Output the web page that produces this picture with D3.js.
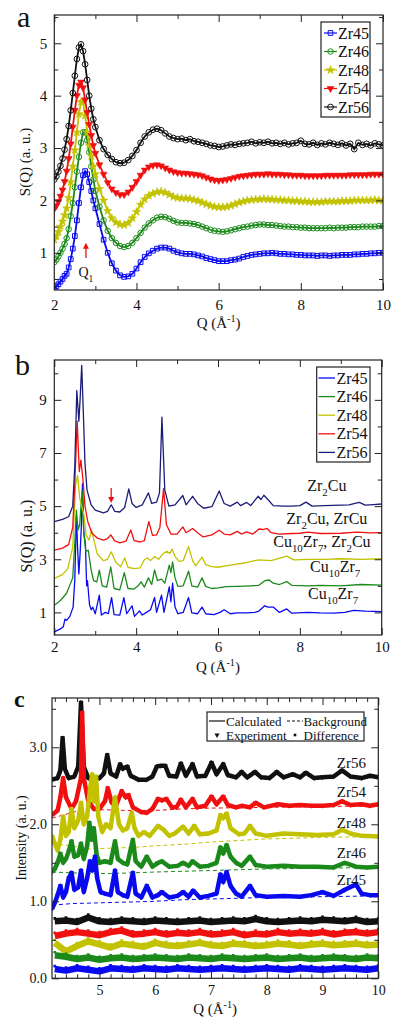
<!DOCTYPE html>
<meta charset="utf-8">
<script src="https://d3js.org/d3.v7.min.js"></script>
<style>
  body { margin: 0; background: #fff; }
  text { font-family: "Liberation Serif", "Times New Roman", serif; }
</style>
<div id="my_dataviz"></div>
<script>

// ---------- panel a : S(Q) of the glasses ----------
var qA = [2.0,2.05,2.1,2.15,2.2,2.25,2.3,2.35,2.4,2.45,2.5,2.55,2.6,2.65,2.7,2.75,2.8,2.85,2.9,2.95,3.0,
  3.1,3.2,3.3,3.4,3.5,3.6,3.7,3.8,3.9,4.0,
  4.1,4.2,4.3,4.4,4.5,4.6,4.7,4.8,4.9,5.0,
  5.1,5.2,5.3,5.4,5.5,5.6,5.7,5.8,5.9,6.0,
  6.1,6.2,6.3,6.4,6.5,6.6,6.7,6.8,6.9,7.0,
  7.1,7.2,7.3,7.4,7.5,7.6,7.7,7.8,7.9,8.0,
  8.1,8.2,8.3,8.4,8.5,8.6,8.7,8.8,8.9,9.0,
  9.1,9.2,9.3,9.4,9.5,9.6,9.7,9.8,9.9,10.0];

var a45 = [0.32,0.36,0.40,0.45,0.50,0.56,0.60,0.72,0.88,1.08,1.32,1.62,1.95,2.25,2.48,2.56,2.50,2.35,2.18,2.00,1.85,
  1.55,1.25,1.00,0.80,0.66,0.57,0.54,0.55,0.60,0.70,
  0.82,0.92,0.99,1.04,1.08,1.10,1.10,1.08,1.04,1.01,
  0.99,0.98,0.98,0.97,0.95,0.93,0.90,0.88,0.86,0.84,
  0.84,0.84,0.86,0.87,0.89,0.92,0.94,0.96,0.97,0.98,
  0.99,0.99,1.00,0.99,0.98,0.98,0.97,0.97,0.96,0.96,
  0.95,0.95,0.95,0.94,0.95,0.95,0.94,0.95,0.95,0.96,
  0.96,0.96,0.97,0.97,0.98,0.98,0.99,0.99,1.00,1.00];
var a46 = [0.82,0.87,0.93,1.00,1.08,1.17,1.28,1.45,1.70,1.95,2.25,2.55,2.83,3.10,3.30,3.30,3.15,2.92,2.65,2.40,2.18,
  1.88,1.62,1.42,1.28,1.19,1.13,1.11,1.13,1.19,1.28,
  1.38,1.48,1.56,1.62,1.67,1.69,1.68,1.65,1.61,1.58,
  1.57,1.57,1.56,1.55,1.53,1.50,1.47,1.44,1.42,1.41,
  1.40,1.41,1.43,1.45,1.47,1.49,1.50,1.52,1.53,1.54,
  1.54,1.53,1.53,1.52,1.51,1.50,1.50,1.49,1.49,1.48,
  1.48,1.47,1.47,1.47,1.47,1.47,1.48,1.47,1.48,1.48,
  1.48,1.49,1.49,1.49,1.50,1.50,1.50,1.50,1.51,1.51];
var a48 = [1.25,1.32,1.40,1.50,1.60,1.72,1.85,2.05,2.35,2.65,2.96,3.30,3.65,3.88,3.88,3.62,3.30,3.05,2.85,2.65,2.50,
  2.22,2.00,1.80,1.66,1.58,1.54,1.53,1.57,1.66,1.78,
  1.92,2.02,2.09,2.13,2.16,2.17,2.15,2.11,2.07,2.05,
  2.04,2.04,2.03,2.01,1.99,1.96,1.93,1.90,1.88,1.87,
  1.87,1.88,1.90,1.93,1.96,1.98,2.00,2.01,2.02,2.02,
  2.03,2.02,2.02,2.01,2.01,2.00,2.00,1.99,1.99,1.98,
  1.98,1.97,1.97,1.97,1.97,1.98,1.98,1.98,1.98,1.99,
  1.99,1.99,2.00,2.00,2.00,2.00,2.00,2.01,2.00,2.00];
var a54 = [1.84,1.90,1.98,2.08,2.20,2.36,2.56,2.80,3.08,3.40,3.72,4.00,4.20,4.26,4.15,3.92,3.68,3.45,3.24,3.05,2.90,
  2.68,2.50,2.34,2.22,2.15,2.11,2.11,2.16,2.25,2.36,
  2.48,2.58,2.64,2.67,2.68,2.66,2.62,2.58,2.55,2.53,
  2.52,2.52,2.51,2.50,2.49,2.47,2.44,2.41,2.39,2.38,
  2.39,2.40,2.42,2.44,2.46,2.47,2.48,2.49,2.50,2.50,
  2.50,2.51,2.50,2.50,2.50,2.49,2.49,2.48,2.48,2.48,
  2.47,2.47,2.47,2.47,2.47,2.48,2.48,2.48,2.48,2.48,
  2.48,2.49,2.49,2.49,2.49,2.49,2.50,2.50,2.50,2.50];
var a56 = [2.40,2.46,2.55,2.66,2.80,2.97,3.17,3.42,3.72,4.05,4.38,4.70,4.92,4.98,4.85,4.60,4.30,4.00,3.75,3.55,3.40,
  3.15,2.98,2.87,2.79,2.73,2.71,2.72,2.77,2.85,2.96,
  3.10,3.22,3.30,3.35,3.37,3.34,3.28,3.22,3.19,3.17,
  3.18,3.15,3.17,3.13,3.12,3.10,3.08,3.05,3.04,3.02,
  3.03,3.05,3.07,3.06,3.08,3.09,3.10,3.12,3.09,3.11,
  3.10,3.12,3.09,3.10,3.08,3.10,3.07,3.09,3.10,3.14,
  3.08,3.07,3.10,3.06,3.09,3.07,3.10,3.08,3.06,3.09,
  3.05,3.08,2.98,3.10,3.06,3.08,3.05,3.09,3.07,3.05];

// ---------- panel b : S(Q) after annealing, [Q, S] ----------
var b45 = [[2.0,0.27],[2.15,0.38],[2.22,0.46],[2.26,0.75],[2.3,0.7],[2.38,0.85],[2.46,1.2],[2.5,2.2],[2.54,4.6],[2.57,3.4],[2.6,2.45],[2.63,3.2],[2.66,4.2],[2.69,5.85],[2.72,4.0],[2.76,3.6],[2.79,2.0],[2.81,2.2],[2.86,1.3],[2.9,1.1],[2.94,1.2],[3.0,0.95],[3.1,1.65],[3.15,0.9],[3.25,1.0],[3.32,0.95],[3.4,1.56],[3.46,0.92],[3.6,0.9],[3.7,1.56],[3.77,0.95],[3.9,1.25],[3.96,0.85],[4.08,1.06],[4.15,0.9],[4.25,1.0],[4.35,1.1],[4.45,1.56],[4.5,1.0],[4.62,1.65],[4.68,1.0],[4.81,1.96],[4.85,1.4],[4.89,2.1],[4.95,1.2],[5.02,0.95],[5.15,1.0],[5.28,1.56],[5.36,0.98],[5.5,0.95],[5.61,1.2],[5.7,0.95],[5.9,0.92],[6.05,1.0],[6.15,1.1],[6.3,0.95],[6.47,0.98],[6.7,0.98],[6.9,1.0],[7.0,1.05],[7.14,1.25],[7.22,1.2],[7.35,1.2],[7.5,1.0],[7.68,1.13],[7.8,0.97],[8.2,1.0],[8.5,0.98],[8.83,0.97],[9.1,1.0],[9.32,1.08],[9.6,1.05],[10.0,1.03]];
var b46 = [[2.0,1.27],[2.15,1.45],[2.3,1.72],[2.45,2.3],[2.5,3.6],[2.54,4.85],[2.58,4.1],[2.62,4.3],[2.68,5.6],[2.72,4.0],[2.77,3.3],[2.83,3.34],[2.9,2.6],[2.96,2.2],[3.04,2.15],[3.1,2.59],[3.17,2.0],[3.28,1.95],[3.38,2.71],[3.46,1.9],[3.6,1.85],[3.71,2.5],[3.8,1.9],[3.95,1.88],[4.05,2.0],[4.12,2.15],[4.2,1.95],[4.3,2.3],[4.38,2.05],[4.45,2.6],[4.52,2.2],[4.62,2.25],[4.7,2.1],[4.81,2.78],[4.85,2.5],[4.89,2.9],[4.95,2.3],[5.02,1.98],[5.15,2.0],[5.28,2.55],[5.36,2.0],[5.5,1.95],[5.61,2.3],[5.7,1.98],[5.85,1.9],[6.0,1.92],[6.2,1.97],[6.5,1.98],[6.8,2.0],[7.0,2.02],[7.15,2.2],[7.25,2.22],[7.35,2.1],[7.5,2.05],[7.68,2.16],[7.8,2.02],[8.2,2.0],[8.5,2.02],[9.0,2.0],[9.5,2.05],[10.0,2.03]];
var b48 = [[2.0,2.28],[2.2,2.42],[2.33,2.65],[2.45,3.45],[2.52,5.8],[2.57,6.16],[2.62,5.3],[2.67,5.0],[2.72,4.7],[2.78,3.9],[2.85,3.72],[2.91,4.1],[2.97,3.7],[3.05,3.2],[3.2,2.95],[3.3,3.0],[3.39,3.28],[3.5,2.9],[3.62,2.72],[3.72,3.05],[3.8,2.7],[3.95,2.65],[4.1,2.68],[4.2,2.98],[4.28,3.05],[4.35,2.95],[4.45,3.1],[4.55,3.0],[4.65,3.2],[4.75,3.3],[4.82,3.22],[4.88,3.38],[4.95,3.1],[5.05,2.92],[5.15,2.95],[5.28,3.48],[5.38,2.95],[5.45,2.75],[5.61,3.08],[5.7,2.8],[5.85,2.72],[6.0,2.7],[6.3,2.78],[6.6,2.85],[7.0,2.98],[7.3,2.95],[7.68,3.12],[7.85,2.98],[8.2,3.0],[8.6,3.0],[9.0,3.02],[9.5,3.0],[10.0,3.02]];
var b54 = [[2.0,3.34],[2.2,3.42],[2.35,3.55],[2.45,4.2],[2.5,5.8],[2.56,8.2],[2.61,6.3],[2.65,6.73],[2.7,6.0],[2.75,5.0],[2.82,4.4],[2.92,3.98],[3.05,3.8],[3.2,3.72],[3.3,3.78],[3.38,3.92],[3.47,3.7],[3.6,3.62],[3.75,3.68],[3.87,4.1],[3.95,3.7],[4.1,3.65],[4.2,3.7],[4.31,4.42],[4.4,3.9],[4.5,3.92],[4.58,4.2],[4.67,5.66],[4.74,4.3],[4.85,3.95],[5.0,3.95],[5.14,4.22],[5.22,4.0],[5.38,4.16],[5.5,4.0],[5.64,3.84],[5.85,3.92],[6.03,4.09],[6.15,3.95],[6.3,3.92],[6.47,4.05],[6.57,3.95],[6.7,4.03],[6.85,3.95],[7.0,4.14],[7.1,4.12],[7.2,4.16],[7.3,4.0],[7.5,3.95],[7.8,3.97],[8.0,3.98],[8.2,4.02],[8.5,3.97],[9.0,3.98],[9.4,4.02],[9.7,3.99],[10.0,4.0]];
var b56 = [[2.0,4.42],[2.2,4.5],[2.35,4.6],[2.45,5.0],[2.5,6.5],[2.55,9.35],[2.6,8.2],[2.63,9.0],[2.67,10.3],[2.71,8.5],[2.75,6.6],[2.8,5.6],[2.9,5.05],[3.0,4.85],[3.2,4.75],[3.3,4.8],[3.39,5.05],[3.48,4.8],[3.6,4.78],[3.72,4.95],[3.82,5.65],[3.9,5.1],[4.0,4.95],[4.15,5.05],[4.3,5.5],[4.38,5.1],[4.5,5.15],[4.57,5.5],[4.63,8.35],[4.7,5.6],[4.8,5.0],[4.95,5.05],[5.14,5.4],[5.22,5.05],[5.38,5.37],[5.5,5.1],[5.65,4.92],[5.85,4.98],[6.03,5.57],[6.15,5.1],[6.3,5.0],[6.47,5.15],[6.55,5.02],[6.7,5.14],[6.8,5.02],[6.98,5.37],[7.05,5.25],[7.12,5.41],[7.22,5.25],[7.35,5.02],[7.6,5.0],[7.8,5.0],[8.0,5.02],[8.15,5.15],[8.3,5.0],[8.6,5.02],[9.0,5.04],[9.2,5.05],[9.45,5.14],[9.6,5.04],[9.8,5.06],[10.0,5.08]];

// ---------- panel c : Rietveld fits, experiment [Q, I] and background ----------
var c56 = [[4.15,2.58],[4.25,2.6],[4.3,2.7],[4.34,3.12],[4.38,2.72],[4.45,2.6],[4.55,2.62],[4.62,2.75],[4.67,3.58],[4.72,2.75],[4.8,2.6],[4.9,2.6],[5.0,2.6],[5.08,2.66],[5.14,2.9],[5.2,2.66],[5.3,2.62],[5.37,2.78],[5.42,2.72],[5.5,2.75],[5.56,2.63],[5.7,2.58],[5.85,2.58],[5.95,2.62],[6.03,2.75],[6.1,2.76],[6.18,2.76],[6.25,2.63],[6.38,2.62],[6.46,2.79],[6.55,2.63],[6.67,2.78],[6.75,2.62],[6.9,2.63],[7.01,2.8],[7.1,2.65],[7.22,2.78],[7.3,2.64],[7.45,2.61],[7.55,2.68],[7.65,2.61],[7.79,2.68],[7.9,2.61],[8.05,2.6],[8.18,2.68],[8.3,2.61],[8.47,2.65],[8.6,2.61],[8.7,2.67],[8.85,2.6],[9.0,2.61],[9.2,2.62],[9.35,2.7],[9.5,2.62],[9.7,2.6],[9.85,2.63],[10.0,2.61]];
var c54 = [[4.15,2.12],[4.25,2.18],[4.3,2.35],[4.35,2.6],[4.4,2.35],[4.5,2.2],[4.58,2.3],[4.67,2.6],[4.69,3.45],[4.72,2.6],[4.8,2.3],[4.9,2.2],[5.0,2.2],[5.1,2.3],[5.15,2.47],[5.22,2.28],[5.3,2.25],[5.4,2.43],[5.47,2.35],[5.52,2.38],[5.6,2.22],[5.75,2.16],[5.85,2.15],[5.95,2.2],[6.05,2.33],[6.12,2.31],[6.2,2.33],[6.3,2.22],[6.38,2.22],[6.46,2.32],[6.55,2.22],[6.67,2.33],[6.75,2.22],[6.9,2.24],[7.01,2.36],[7.1,2.26],[7.22,2.36],[7.3,2.25],[7.45,2.22],[7.55,2.24],[7.7,2.22],[7.8,2.28],[7.95,2.22],[8.2,2.26],[8.4,2.24],[8.6,2.25],[8.8,2.24],[9.0,2.24],[9.2,2.25],[9.35,2.3],[9.5,2.25],[9.7,2.26],[9.85,2.24],[10.0,2.26]];
var c48 = [[4.15,1.85],[4.2,1.75],[4.25,1.66],[4.3,1.8],[4.35,2.1],[4.4,1.85],[4.45,1.9],[4.5,2.2],[4.55,1.95],[4.62,2.05],[4.67,2.28],[4.72,2.0],[4.78,2.1],[4.83,2.45],[4.87,2.65],[4.9,2.3],[4.94,2.62],[4.98,2.1],[5.05,1.9],[5.12,2.0],[5.2,1.95],[5.28,2.35],[5.35,2.0],[5.42,1.92],[5.5,1.95],[5.58,2.15],[5.63,1.95],[5.7,1.85],[5.8,1.9],[5.9,1.85],[6.05,1.98],[6.15,1.93],[6.25,1.85],[6.35,1.88],[6.5,1.97],[6.6,1.88],[6.7,1.98],[6.8,1.87],[6.95,1.88],[7.1,1.92],[7.17,2.12],[7.22,2.08],[7.28,2.14],[7.35,1.95],[7.5,1.87],[7.6,1.88],[7.7,1.98],[7.8,1.88],[8.0,1.85],[8.3,1.88],[8.6,1.87],[8.9,1.86],[9.2,1.87],[9.35,1.93],[9.5,1.88],[9.7,1.85],[10.0,1.84]];
var c46 = [[4.15,1.38],[4.2,1.42],[4.25,1.5],[4.3,1.62],[4.35,1.5],[4.4,1.55],[4.45,1.65],[4.5,1.78],[4.55,1.58],[4.62,1.6],[4.67,1.75],[4.72,1.55],[4.78,1.72],[4.82,2.02],[4.86,1.8],[4.9,1.95],[4.95,1.6],[5.0,1.5],[5.1,1.52],[5.2,1.5],[5.28,1.78],[5.33,1.55],[5.42,1.5],[5.5,1.48],[5.6,1.8],[5.65,1.52],[5.75,1.45],[5.85,1.58],[5.95,1.45],[6.05,1.5],[6.12,1.52],[6.25,1.45],[6.4,1.46],[6.5,1.5],[6.6,1.46],[6.67,1.52],[6.8,1.45],[6.95,1.46],[7.1,1.5],[7.17,1.7],[7.22,1.62],[7.28,1.73],[7.35,1.58],[7.45,1.5],[7.55,1.46],[7.7,1.58],[7.8,1.47],[8.0,1.45],[8.3,1.46],[8.6,1.45],[8.9,1.45],[9.2,1.44],[9.4,1.5],[9.6,1.45],[9.8,1.44],[10.0,1.45]];
var c45 = [[4.15,0.9],[4.2,0.98],[4.25,1.08],[4.3,1.2],[4.35,1.05],[4.4,1.12],[4.45,1.3],[4.5,1.37],[4.55,1.15],[4.62,1.18],[4.67,1.4],[4.72,1.12],[4.78,1.3],[4.83,1.52],[4.87,1.4],[4.92,1.58],[4.96,1.3],[5.02,1.12],[5.1,1.1],[5.2,1.08],[5.28,1.4],[5.33,1.12],[5.42,1.08],[5.5,1.06],[5.6,1.37],[5.65,1.1],[5.75,1.05],[5.85,1.2],[5.95,1.05],[6.05,1.08],[6.12,1.12],[6.25,1.05],[6.4,1.07],[6.5,1.12],[6.6,1.06],[6.68,1.14],[6.8,1.05],[6.95,1.07],[7.1,1.1],[7.17,1.35],[7.22,1.25],[7.28,1.38],[7.35,1.2],[7.45,1.1],[7.55,1.06],[7.7,1.2],[7.8,1.08],[8.0,1.06],[8.3,1.07],[8.6,1.06],[8.8,1.08],[9.0,1.12],[9.2,1.07],[9.4,1.15],[9.6,1.22],[9.7,1.1],[9.85,1.08],[10.0,1.08]];

var bg54 = [[4.15,2.08],[4.4,2.13],[4.7,2.19],[5.0,2.19],[5.5,2.18],[6.0,2.18],[6.5,2.2],[7.0,2.21],[8.0,2.22],[9.0,2.23],[10.0,2.24]];
var bg48 = [[4.15,1.75],[4.5,1.72],[4.8,1.68],[5.2,1.69],[5.6,1.7],[6.0,1.72],[6.5,1.74],[7.0,1.77],[7.5,1.79],[8.0,1.81],[9.0,1.83],[10.0,1.84]];
var bg46 = [[4.15,1.38],[4.5,1.37],[4.8,1.36],[5.2,1.36],[5.6,1.37],[6.0,1.38],[6.5,1.39],[7.0,1.4],[7.5,1.41],[8.0,1.42],[9.0,1.43],[10.0,1.44]];
var bg45 = [[4.15,0.95],[4.5,0.97],[5.0,0.98],[5.5,0.99],[6.0,1.0],[6.5,1.02],[7.0,1.03],[8.0,1.05],[9.0,1.06],[10.0,1.07]];

// difference curves, shifted to the bottom of the panel
var qDiff = [4.2,4.4,4.6,4.8,5.0,5.2,5.4,5.6,5.8,6.0,6.2,6.4,6.6,6.8,7.0,7.2,7.4,7.6,7.8,8.0,8.2,8.4,8.6,8.8,9.0,9.2,9.4,9.6,9.8,10.0];
var d56 = [0.74,0.75,0.73,0.79,0.74,0.73,0.75,0.74,0.73,0.75,0.74,0.73,0.74,0.75,0.73,0.74,0.75,0.74,0.77,0.74,0.73,0.74,0.75,0.74,0.76,0.75,0.74,0.76,0.73,0.74];
var d54 = [0.55,0.58,0.60,0.58,0.56,0.60,0.62,0.57,0.58,0.60,0.57,0.59,0.58,0.60,0.57,0.58,0.60,0.56,0.58,0.57,0.60,0.58,0.59,0.58,0.60,0.57,0.59,0.60,0.58,0.60];
var d48 = [0.46,0.35,0.42,0.48,0.44,0.40,0.45,0.43,0.41,0.46,0.43,0.42,0.44,0.46,0.43,0.42,0.45,0.44,0.42,0.43,0.45,0.44,0.42,0.44,0.45,0.43,0.44,0.45,0.43,0.44];
var d46 = [0.30,0.28,0.25,0.27,0.24,0.26,0.27,0.25,0.26,0.27,0.26,0.25,0.27,0.26,0.25,0.27,0.26,0.25,0.26,0.27,0.25,0.26,0.27,0.25,0.26,0.27,0.26,0.25,0.27,0.26];
var d45 = [0.12,0.10,0.13,0.11,0.09,0.13,0.12,0.11,0.13,0.12,0.11,0.13,0.12,0.11,0.12,0.13,0.12,0.11,0.12,0.13,0.12,0.11,0.13,0.12,0.11,0.12,0.13,0.12,0.11,0.13];

var names = ["Zr45", "Zr46", "Zr48", "Zr54", "Zr56"];

// ------------------------------------------------------------
var width = 399, height = 1024;
var svg = d3.select("#my_dataviz")
  .append("svg")
    .attr("width", width)
    .attr("height", height);

var BLUE = "#0a0af0", GREEN = "#1b8a1b", OLIVE = "#c2c200", RED = "#f01010", BLACK = "#111", NAVY = "#1c1c78";

// frame with inward major/minor ticks on all four sides
function addAxes(x, y, o) {
  var xr = x.range(), yr = y.range();
  var sides = [
    {ax: d3.axisBottom, sc: x, tr: "translate(0," + yr[0] + ")", major: o.xMajor, minor: o.xMinor, fmt: o.xFmt, pad: o.xPad},
    {ax: d3.axisTop, sc: x, tr: "translate(0," + yr[1] + ")", major: o.xMajor, minor: o.xMinor},
    {ax: d3.axisLeft, sc: y, tr: "translate(" + xr[0] + ",0)", major: o.yMajor, minor: o.yMinor, fmt: o.yFmt, pad: o.yPad},
    {ax: d3.axisRight, sc: y, tr: "translate(" + xr[1] + ",0)", major: o.yMajor, minor: o.yMinor}
  ];
  sides.forEach(function(s) {
    var mi = svg.append("g").attr("transform", s.tr)
      .call(s.ax(s.sc).tickValues(s.minor).tickSize(-4).tickFormat(""));
    mi.select(".domain").remove();
    mi.selectAll("line").attr("stroke", "#222");
    var ma = svg.append("g").attr("transform", s.tr)
      .call(s.ax(s.sc).tickValues(s.major).tickSize(-7).tickPadding(s.pad || 3).tickFormat(s.fmt || ""));
    ma.select(".domain").remove();
    ma.selectAll("line").attr("stroke", "#222");
    ma.attr("font-family", '"Liberation Serif", serif').attr("font-size", o.fs || 15);
    ma.selectAll("text").attr("fill", "#111");
  });
  svg.append("rect")
    .attr("x", xr[0]).attr("y", yr[1])
    .attr("width", xr[1] - xr[0]).attr("height", yr[0] - yr[1])
    .attr("fill", "none").attr("stroke", "#222").attr("stroke-width", 1.2);
}

function clip(id, x, y) {
  var xr = x.range(), yr = y.range();
  svg.append("clipPath").attr("id", id).append("rect")
    .attr("x", xr[0]).attr("y", yr[1]).attr("width", xr[1] - xr[0]).attr("height", yr[0] - yr[1]);
  return svg.append("g").attr("clip-path", "url(#" + id + ")");
}

// text with sub/superscripts: parts = [[text, "sub"|"sup"|null], ...]
function rich(g, x, y, parts, fs, anchor) {
  var t = g.append("text").attr("x", x).attr("y", y)
    .attr("font-size", fs).attr("text-anchor", anchor || "start").attr("fill", "#111");
  var cur = 0;
  parts.forEach(function(p) {
    var target = p[1] === "sub" ? fs * 0.3 : p[1] === "sup" ? -fs * 0.42 : 0;
    t.append("tspan").text(p[0])
      .attr("dy", target - cur)
      .attr("font-size", p[1] ? fs * 0.68 : fs);
    cur = target;
  });
  return t;
}

function yLabel(x, y, parts, fs) {
  var g = svg.append("g").attr("transform", "translate(" + x + "," + y + ") rotate(-90)");
  rich(g, 0, 0, parts, fs, "middle");
}

function arrow(x, y0, y1, color) {
  // shaft from y0 to y1, head at y1
  var dir = y1 > y0 ? 1 : -1;
  svg.append("line").attr("x1", x).attr("x2", x).attr("y1", y0).attr("y2", y1 - dir * 4)
    .attr("stroke", color).attr("stroke-width", 1.3);
  svg.append("path")
    .attr("d", "M" + (x - 3) + "," + (y1 - dir * 6) + "L" + (x + 3) + "," + (y1 - dir * 6) + "L" + x + "," + y1 + "Z")
    .attr("fill", color);
}

var qLabel = [["Q (Å", null], ["-1", "sup"], [")", null]];

// ============ panel a ============
var xA = d3.scaleLinear().domain([2, 10]).range([54.3, 383]);
var yA = d3.scaleLinear().domain([0.29, 5.54]).range([290, 15]);

var gA = clip("clipA", xA, yA);
var seriesA = [
  {vals: a45, color: BLUE, sym: d3.symbolSquare, size: 22, open: true},
  {vals: a46, color: GREEN, sym: d3.symbolCircle, size: 24, open: true},
  {vals: a48, color: OLIVE, sym: d3.symbolStar, size: 22, open: false},
  {vals: a54, color: RED, sym: d3.symbolTriangle, size: 20, open: false, down: true},
  {vals: a56, color: BLACK, sym: d3.symbolCircle, size: 26, open: true}
];
var lineA = d3.line().x(function(d){ return xA(d[0]); }).y(function(d){ return yA(d[1]); });

function marker(sel, s) {
  sel.attr("d", d3.symbol().type(s.sym).size(s.size))
    .attr("fill", s.open ? "none" : s.color)
    .attr("stroke", s.color)
    .attr("stroke-width", s.open ? 1 : 0.6);
}

seriesA.forEach(function(s) {
  var pts = d3.zip(qA, s.vals);
  gA.append("path").datum(pts).attr("d", lineA)
    .attr("fill", "none").attr("stroke", s.color).attr("stroke-width", 1.8);
  gA.selectAll(null).data(pts).join("path")
    .call(marker, s)
    .attr("transform", function(d){ return "translate(" + xA(d[0]) + "," + yA(d[1]) + ")" + (s.down ? " rotate(180)" : ""); });
});

addAxes(xA, yA, {xMajor: [2, 4, 6, 8, 10], xMinor: [3, 5, 7, 9], xFmt: d3.format("d"), xPad: 9,
  yMajor: [1, 2, 3, 4, 5], yMinor: [0.5, 1.5, 2.5, 3.5, 4.5, 5.5], yFmt: d3.format("d"), yPad: 7, fs: 15});

// legend a
var legA = svg.append("g");
legA.append("rect").attr("x", 321).attr("y", 22).attr("width", 49).attr("height", 95)
  .attr("fill", "#fff").attr("stroke", "#222").attr("stroke-width", 1.2);
seriesA.forEach(function(s, i) {
  var yy = 33 + i * 18.5;
  legA.append("line").attr("x1", 324).attr("x2", 337).attr("y1", yy).attr("y2", yy)
    .attr("stroke", s.color).attr("stroke-width", 1.2);
  legA.append("path").call(marker, s)
    .attr("transform", "translate(330.5," + yy + ")" + (s.down ? " rotate(180)" : ""));
  legA.append("text").attr("x", 338).attr("y", yy + 5.5).attr("font-size", 16).attr("fill", "#111").text(names[i]);
});

svg.append("text").attr("x", 17).attr("y", 27).attr("font-size", 30).attr("fill", "#111").text("a");
yLabel(30, 162, [["S(Q) (a. u.)", null]], 15);
rich(svg, (xA(2) + xA(10)) / 2, 328, qLabel, 15, "middle");
arrow(xA(2.77), yA(0.9), yA(1.19), RED);
rich(svg, xA(2.77), yA(0.53), [["Q", null], ["1", "sub"]], 14, "middle");

// ============ panel b ============
var xB = d3.scaleLinear().domain([2, 10]).range([54.3, 381.7]);
var yB = d3.scaleLinear().domain([0.15, 10.5]).range([635, 360]);

var gB = clip("clipB", xB, yB);
var seriesB = [
  {vals: b45, color: BLUE}, {vals: b46, color: GREEN}, {vals: b48, color: OLIVE},
  {vals: b54, color: RED}, {vals: b56, color: NAVY}
];
var lineB = d3.line().x(function(d){ return xB(d[0]); }).y(function(d){ return yB(d[1]); });
seriesB.forEach(function(s) {
  gB.append("path").datum(s.vals).attr("d", lineB)
    .attr("fill", "none").attr("stroke", s.color).attr("stroke-width", 1.3).attr("stroke-linejoin", "round");
});

addAxes(xB, yB, {xMajor: [2, 4, 6, 8, 10], xMinor: [3, 5, 7, 9], xFmt: d3.format("d"), xPad: 6.5,
  yMajor: [1, 3, 5, 7, 9], yMinor: [2, 4, 6, 8, 10], yFmt: d3.format("d"), yPad: 7.5, fs: 15});

var legB = svg.append("g");
legB.append("rect").attr("x", 316.7).attr("y", 367).attr("width", 53.3).attr("height", 95)
  .attr("fill", "#fff").attr("stroke", "#222").attr("stroke-width", 1.2);
seriesB.forEach(function(s, i) {
  var yy = 378 + i * 18.6;
  legB.append("line").attr("x1", 318.5).attr("x2", 335).attr("y1", yy).attr("y2", yy)
    .attr("stroke", s.color).attr("stroke-width", 1.3);
  legB.append("text").attr("x", 336.5).attr("y", yy + 5.5).attr("font-size", 16).attr("fill", "#111").text(names[i]);
});

svg.append("text").attr("x", 15).attr("y", 375).attr("font-size", 30).attr("fill", "#111").text("b");
yLabel(32, 536, [["S(Q) (a. u.)", null]], 16);
rich(svg, (xB(2) + xB(10)) / 2, 672, qLabel, 15, "middle");
arrow(xB(3.39), yB(5.68), yB(5.12), RED);

rich(svg, xB(8.18), yB(5.58), [["Zr", null], ["2", "sub"], ["Cu", null]], 16);
rich(svg, xB(7.67), yB(4.33), [["Zr", null], ["2", "sub"], ["Cu, ZrCu", null]], 16);
rich(svg, xB(7.35), yB(3.47), [["Cu", null], ["10", "sub"], ["Zr", null], ["7", "sub"], [", Zr", null], ["2", "sub"], ["Cu", null]], 16);
rich(svg, xB(8.25), yB(2.53), [["Cu", null], ["10", "sub"], ["Zr", null], ["7", "sub"]], 16);
rich(svg, xB(8.2), yB(1.49), [["Cu", null], ["10", "sub"], ["Zr", null], ["7", "sub"]], 16);

// ============ panel c ============
var xC = d3.scaleLinear().domain([4.15, 10]).range([52, 378.3]);
var yC = d3.scaleLinear().domain([0, 3.64]).range([978.3, 698]);

var gC = clip("clipC", xC, yC);
var lineC = d3.line().x(function(d){ return xC(d[0]); }).y(function(d){ return yC(d[1]); });
var tri = d3.symbol().type(d3.symbolTriangle).size(11);
var sq = d3.symbol().type(d3.symbolSquare).size(7);

// difference bands first (bottom), drawn from top curve down
var diffs = [{vals: d56, color: BLACK}, {vals: d54, color: RED}, {vals: d48, color: OLIVE},
             {vals: d46, color: GREEN}, {vals: d45, color: BLUE}];
diffs.forEach(function(s) {
  var pts = d3.zip(qDiff, s.vals);
  gC.append("path").datum(pts).attr("d", lineC)
    .attr("fill", "none").attr("stroke", s.color).attr("stroke-width", 6.5).attr("stroke-linejoin", "round");
  gC.selectAll(null).data(pts).join("path").attr("d", sq).attr("fill", s.color)
    .attr("transform", function(d){ return "translate(" + xC(d[0]) + "," + (yC(d[1]) - 3) + ")"; });
});

var seriesC = [
  {vals: c56, bg: null, color: BLACK},
  {vals: c54, bg: bg54, color: RED},
  {vals: c48, bg: bg48, color: OLIVE},
  {vals: c46, bg: bg46, color: GREEN},
  {vals: c45, bg: bg45, color: BLUE}
];
seriesC.forEach(function(s) {
  if (s.bg) {
    gC.append("path").datum(s.bg).attr("d", lineC)
      .attr("fill", "none").attr("stroke", s.color).attr("stroke-width", 1).attr("stroke-dasharray", "4,3");
  }
  // experiment: dense triangles, shown as a thick band plus markers
  gC.append("path").datum(s.vals).attr("d", lineC)
    .attr("fill", "none").attr("stroke", s.color).attr("stroke-width", 4.5).attr("stroke-linejoin", "round");
  gC.selectAll(null).data(s.vals).join("path").attr("d", tri).attr("fill", s.color)
    .attr("transform", function(d){ return "translate(" + xC(d[0]) + "," + yC(d[1]) + ") rotate(180)"; });
  // calculated
  gC.append("path").datum(s.vals).attr("d", lineC)
    .attr("fill", "none").attr("stroke", s.color).attr("stroke-width", 1);
});

addAxes(xC, yC, {xMajor: [5, 6, 7, 8, 9, 10],
  xMinor: d3.range(4.2, 10, 0.2).filter(function(v){ return Math.abs(v - Math.round(v)) > 0.01; }),
  xFmt: d3.format("d"), xPad: 6.5,
  yMajor: [0, 1, 2, 3], yMinor: [0.5, 1.5, 2.5, 3.5], yFmt: d3.format(".1f"), yPad: 5, fs: 14});

// legend c
var legC = svg.append("g");
legC.append("rect").attr("x", 207).attr("y", 712).attr("width", 157).attr("height", 29)
  .attr("fill", "#fff").attr("stroke", "#222").attr("stroke-width", 1.2);
legC.append("line").attr("x1", 209).attr("x2", 225).attr("y1", 721).attr("y2", 721).attr("stroke", "#111").attr("stroke-width", 1.2);
legC.append("text").attr("x", 226).attr("y", 725.5).attr("font-size", 13).attr("fill", "#111").text("Calculated");
legC.append("line").attr("x1", 287).attr("x2", 303).attr("y1", 721).attr("y2", 721).attr("stroke", "#111").attr("stroke-width", 1.2).attr("stroke-dasharray", "3,2");
legC.append("text").attr("x", 303.5).attr("y", 725.5).attr("font-size", 13).attr("fill", "#111").text("Background");
legC.append("path").attr("d", tri).attr("fill", "#111").attr("transform", "translate(217,735) rotate(180)");
legC.append("text").attr("x", 226).attr("y", 740).attr("font-size", 13).attr("fill", "#111").text("Experiment");
legC.append("path").attr("d", sq).attr("fill", "#111").attr("transform", "translate(295,735)");
legC.append("text").attr("x", 303.5).attr("y", 740).attr("font-size", 13).attr("fill", "#111").text("Difference");

// series labels in c
var labC = [["Zr56", 2.73], ["Zr54", 2.36], ["Zr48", 1.95], ["Zr46", 1.56], ["Zr45", 1.21]];
labC.forEach(function(l) {
  svg.append("text").attr("x", xC(9.78)).attr("y", yC(l[1])).attr("text-anchor", "end")
    .attr("font-size", 15).attr("fill", "#111").text(l[0]);
});

svg.append("text").attr("x", 14).attr("y", 707).attr("font-size", 24).attr("font-weight", "bold").attr("fill", "#111").text("c");
yLabel(26, 838, [["Intensity (a. u.)", null]], 14);
rich(svg, (xC(4.15) + xC(10)) / 2, 1014, qLabel, 15, "middle");

</script>
